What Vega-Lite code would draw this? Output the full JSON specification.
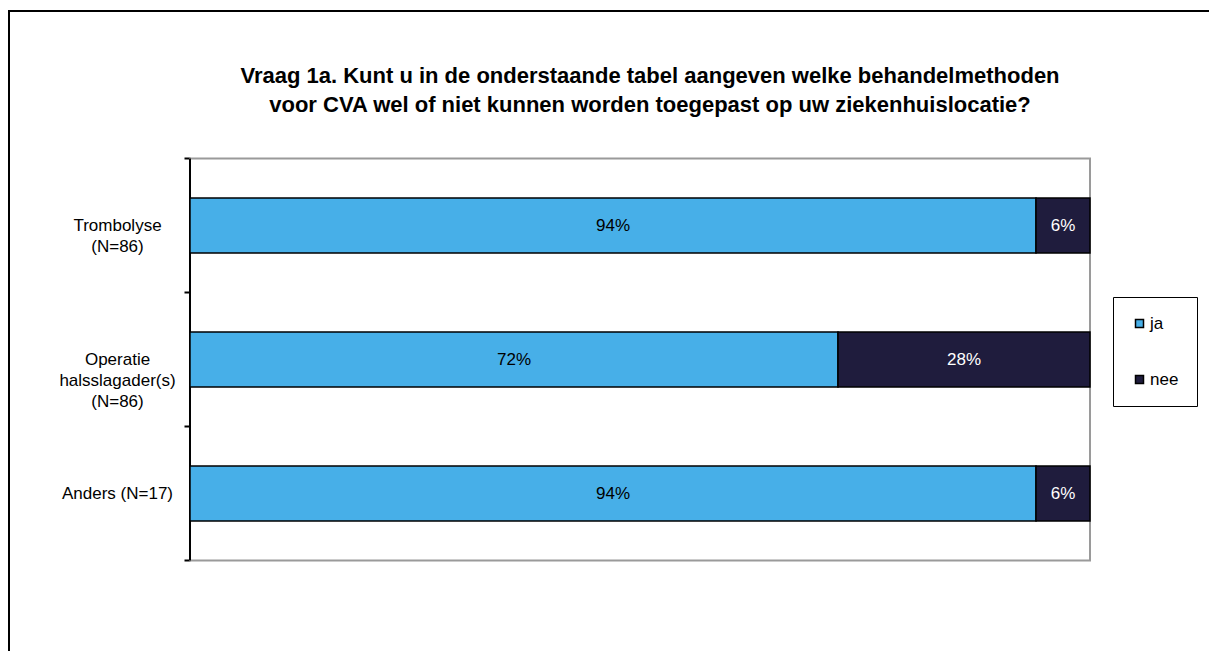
{
  "$schema": "https://vega.github.io/schema/vega-lite/v6.json",
  "width": 1202,
  "height": 642,
  "autosize": "none",
  "padding": {"left": 9, "top": 11, "right": -2, "bottom": -2},
  "background": "white",
  "config": {"view": {"stroke": "black", "strokeWidth": 2}, "font": "Liberation Sans"},
  "title": {
    "text": ["Vraag 1a. Kunt u in de onderstaande tabel aangeven welke behandelmethoden", "voor CVA wel of niet kunnen worden toegepast op uw ziekenhuislocatie?"],
    "font": "Liberation Sans",
    "fontSize": 22,
    "fontWeight": "bold",
    "color": "black",
    "anchor": "middle",
    "dx": 40,
    "offset": -137,
    "baseline": "bottom",
    "lineHeight": 29
  },
  "data": {
    "values": [
      {"cat": "Trombolyse\n(N=86)", "answer": "ja", "pct": 0.94},
      {"cat": "Trombolyse\n(N=86)", "answer": "nee", "pct": 0.06},
      {"cat": "Operatie\nhalsslagader(s)\n(N=86)", "answer": "ja", "pct": 0.72},
      {"cat": "Operatie\nhalsslagader(s)\n(N=86)", "answer": "nee", "pct": 0.28},
      {"cat": "Anders (N=17)", "answer": "ja", "pct": 0.94},
      {"cat": "Anders (N=17)", "answer": "nee", "pct": 0.06}
    ]
  },
  "layer": [
    {
      "data": {"values": [{}]},
      "encoding": {
        "x": {"datum": 0, "type": "quantitative", "axis": null, "scale": {"domain": [-0.201111, 1.134444], "nice": false, "zero": false}},
        "y": {"datum": 0, "type": "quantitative", "axis": null, "scale": {"domain": [-1.10075, 3.69029], "reverse": true, "zero": false, "nice": false}},
        "y2": {"datum": 3}
      },
      "layer": [
        {"mark": {"type": "rect", "fill": "transparent", "stroke": "#9a9a9a", "strokeWidth": 2}, "encoding": {"x2": {"datum": 1}}},
        {"mark": {"type": "rule", "stroke": "black", "strokeWidth": 2}, "encoding": {}}
      ]
    },
    {
      "encoding": {
        "y": {
          "field": "cat",
          "type": "nominal",
          "sort": null,
          "scale": {"paddingInner": 0, "paddingOuter": 0.895522, "align": 0.614583},
          "axis": {
            "title": null,
            "orient": "left",
            "offset": -181,
            "domain": false,
            "grid": false,
            "tickBand": "extent",
            "ticks": true,
            "tickSize": 6,
            "tickWidth": 2,
            "tickColor": "black",
            "labelAlign": "center",
            "labelBaseline": "middle",
            "labelPadding": 67,
            "labelFont": "Liberation Sans",
            "labelFontSize": 17,
            "labelColor": "black",
            "labelLineHeight": 21,
            "labelLimit": 0,
            "labelExpr": "split(datum.label, '\\n')"
          }
        }
      },
      "layer": [
        {
          "mark": {"type": "bar", "height": {"band": 0.41}, "stroke": "black", "strokeWidth": 1.5},
          "encoding": {
            "x": {"field": "pct", "type": "quantitative", "stack": "zero", "axis": null, "scale": {"domain": [-0.201111, 1.134444], "nice": false, "zero": false}},
            "color": {
              "field": "answer",
              "type": "nominal",
              "scale": {"domain": ["ja", "nee"], "range": ["#47AFE8", "#1F1C3D"]},
              "legend": {
                "title": null,
                "orient": "none",
                "legendX": 1104,
                "legendY": 286,
                "strokeColor": "black",
                "padding": 18,
                "symbolType": "square",
                "symbolSize": 64,
                "symbolStrokeColor": "black",
                "symbolStrokeWidth": 1.5,
                "labelFont": "Liberation Sans",
                "labelFontSize": 17,
                "labelColor": "black",
                "labelOffset": 2,
                "rowPadding": 38
              }
            },
            "order": {"field": "answer", "sort": "ascending"}
          }
        },
        {
          "mark": {"type": "text", "font": "Liberation Sans", "fontSize": 17, "baseline": "middle", "align": "center", "dy": 1},
          "encoding": {
            "x": {"field": "pct", "type": "quantitative", "stack": "zero", "bandPosition": 0.5, "axis": null},
            "text": {"field": "pct", "type": "quantitative", "format": ".0%"},
            "color": {"condition": {"test": "datum.answer === 'nee'", "value": "white"}, "value": "black"},
            "order": {"field": "answer", "sort": "ascending"}
          }
        }
      ]
    }
  ],
  "resolve": {"scale": {"y": "independent"}, "axis": {"y": "independent"}}
}
